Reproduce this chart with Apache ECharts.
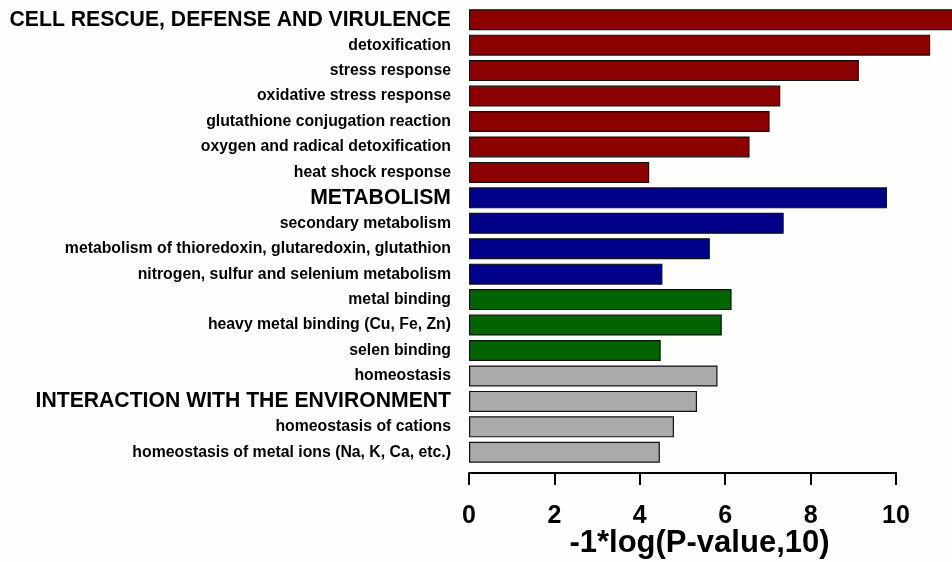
<!DOCTYPE html>
<html>
<head>
<meta charset="utf-8">
<script src="https://cdn.jsdelivr.net/npm/echarts@6/dist/echarts.min.js"></script>
<style>
html,body{margin:0;padding:0;background:#fefefd;}
#chart{width:952px;height:562px;}
</style>
</head>
<body>
<div id="chart"></div>
<script>
const categories = [
  'CELL RESCUE, DEFENSE AND VIRULENCE',
  'detoxification',
  'stress response',
  'oxidative stress response',
  'glutathione conjugation reaction',
  'oxygen and radical detoxification',
  'heat shock response',
  'METABOLISM',
  'secondary metabolism',
  'metabolism of thioredoxin, glutaredoxin, glutathion',
  'nitrogen, sulfur and selenium metabolism',
  'metal binding',
  'heavy metal binding (Cu, Fe, Zn)',
  'selen binding',
  'homeostasis',
  'INTERACTION WITH THE ENVIRONMENT',
  'homeostasis of cations',
  'homeostasis of metal ions (Na, K, Ca, etc.)'
];
const values = [11.6, 10.8, 9.13, 7.29, 7.04, 6.57, 4.22, 9.79, 7.37, 5.64, 4.53, 6.15, 5.92, 4.49, 5.82, 5.34, 4.80, 4.47];
const groups = ['cell','cell','cell','cell','cell','cell','cell','meta','meta','meta','meta','metal','metal','metal','env','env','env','env'];
const headers = ['CELL RESCUE, DEFENSE AND VIRULENCE','METABOLISM','INTERACTION WITH THE ENVIRONMENT'];
const xTicks = [0, 2, 4, 6, 8, 10];
const xTitle = '-1*log(P-value,10)';

const groupColors = {cell:'#8b0000', meta:'#000088', metal:'#006400', env:'#aaaaaa'};

const chart = echarts.init(document.getElementById('chart'));
chart.setOption({
  backgroundColor: '#fefefd',
  animation: false,
  grid: {left: 469, right: 56, top: 7, bottom: 97, containLabel: false, outerBoundsMode: 'none'},
  xAxis: {
    type: 'value', min: xTicks[0], max: xTicks[xTicks.length-1], interval: 2,
    offset: 8,
    axisLine: {show: true, lineStyle: {color: '#000', width: 2}},
    axisTick: {show: true, length: 12, lineStyle: {color: '#000', width: 2}},
    splitLine: {show: false},
    axisLabel: {margin: 31, color: '#000', fontFamily: 'Liberation Sans, Arial', fontWeight: 'bold', fontSize: 25},
    name: xTitle, nameLocation: 'middle', nameGap: 55, nameMoveOverlap: false,
    nameTextStyle: {color: '#000', fontFamily: 'Liberation Sans, Arial', fontWeight: 'bold', fontSize: 31, padding: [0,0,0,34]}
  },
  yAxis: {
    type: 'category', data: categories, inverse: true,
    axisLine: {show: false}, axisTick: {show: false},
    axisLabel: {
      margin: 18, interval: 0,
      formatter: v => headers.includes(v) ? '{h|' + v + '}' : '{s|' + v + '}',
      rich: {
        h: {fontFamily: 'Liberation Sans, Arial', fontWeight: 'bold', fontSize: 21.2, color: '#000'},
        s: {fontFamily: 'Liberation Sans, Arial', fontWeight: 'bold', fontSize: 15.8, color: '#000'}
      }
    }
  },
  series: [{
    type: 'bar', clip: false, barWidth: 21,
    data: values.map((v, i) => ({value: v, itemStyle: {color: groupColors[groups[i]]}})),
    itemStyle: {borderColor: '#111', borderWidth: 1.2}
  }]
});
</script>
</body>
</html>
